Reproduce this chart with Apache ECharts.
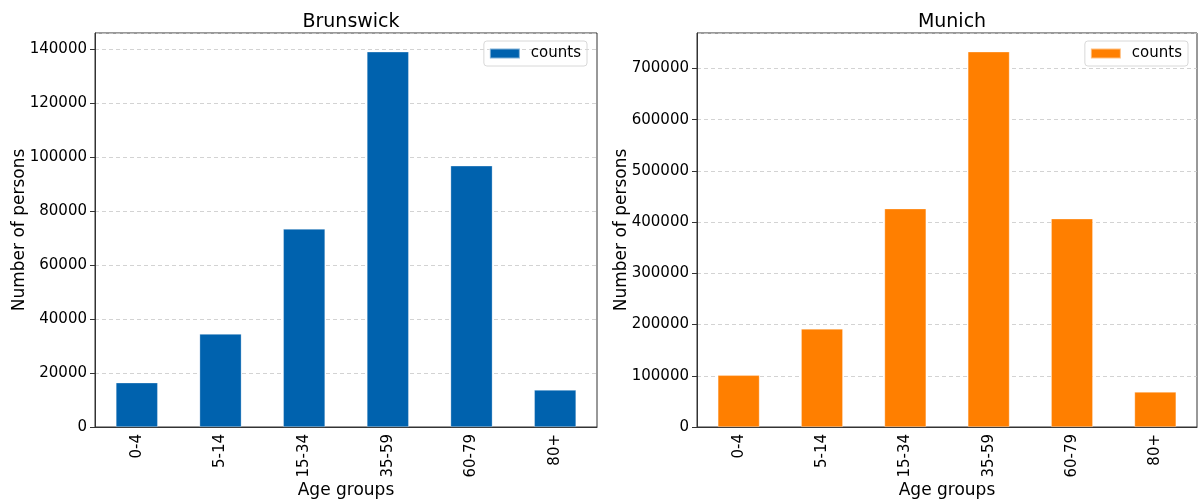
<!DOCTYPE html>
<html>
<head>
<meta charset="utf-8">
<script src="https://cdn.jsdelivr.net/npm/echarts@6/dist/echarts.min.js"></script>
<style>
  body { margin: 0; background: #fff; }
  .wrap { display: flex; width: 1200px; height: 501px; }
  .chart { width: 600px; height: 501px; }
</style>
</head>
<body>
<div class="wrap">
  <div id="brunswick" class="chart"></div>
  <div id="munich" class="chart"></div>
</div>
<script>
const ageGroups = ['0-4', '5-14', '15-34', '35-59', '60-79', '80+'];
const brunswickCounts = [16400, 34400, 73300, 138900, 96700, 13700];
const munichCounts = [101000, 191600, 426300, 732700, 406700, 68400];

const FONT = 'DejaVu Sans';

function makeOption(title, data, color, step, gridLeft, gridWidth, legendRight) {
  const top = Math.max(...data) * 1.05;
  return {
    animation: false,
    textStyle: {fontFamily: FONT},
    title: {
      text: title,
      left: gridLeft + gridWidth / 2,
      top: 8,
      textAlign: 'center',
      textStyle: {fontFamily: FONT, fontSize: 19, fontWeight: 'normal', color: '#000'}
    },
    legend: {
      data: ['counts'],
      icon: 'rect',
      right: legendRight,
      top: 41,
      itemWidth: 30,
      itemHeight: 10,
      padding: [5, 6, 5, 5],
      borderColor: '#d8d8d8',
      borderWidth: 1,
      borderRadius: 3,
      textStyle: {fontFamily: FONT, fontSize: 15, color: '#000', padding: [0, 0, 0, 6]}
    },
    grid: {
      left: gridLeft,
      width: gridWidth,
      top: 33,
      bottom: 74,
      outerBoundsMode: 'none',
      show: true,
      borderColor: '#333',
      borderWidth: 1
    },
    xAxis: {
      type: 'category',
      data: ageGroups,
      name: 'Age groups',
      nameLocation: 'middle',
      nameGap: 55,
      nameMoveOverlap: false,
      nameTextStyle: {fontFamily: FONT, fontSize: 17, color: '#000'},
      axisLine: {lineStyle: {color: '#333'}},
      axisTick: {alignWithLabel: true, length: 5, lineStyle: {color: '#333'}},
      axisLabel: {rotate: 90, fontSize: 15, color: '#000', margin: 7, fontFamily: FONT}
    },
    yAxis: {
      type: 'value',
      min: 0,
      max: top,
      interval: step,
      name: 'Number of persons',
      nameLocation: 'middle',
      nameGap: 67,
      nameMoveOverlap: false,
      nameTextStyle: {fontFamily: FONT, fontSize: 17, color: '#000'},
      axisLine: {show: true, lineStyle: {color: '#333'}},
      axisTick: {show: true, length: 5, lineStyle: {color: '#333'}},
      axisLabel: {
        fontSize: 15, color: '#000', margin: 8, fontFamily: FONT, showMaxLabel: false,
        formatter: v => String(v)
      },
      splitLine: {show: true, lineStyle: {color: '#c8c8c8', type: [4, 3], width: 0.8}}
    },
    series: [
      {
        name: 'counts',
        type: 'bar',
        barWidth: '50%',
        data: data,
        itemStyle: {color: color, borderColor: 'rgba(255,255,255,0.5)', borderWidth: 0.6}
      }
    ]
  };
}

const chartB = echarts.init(document.getElementById('brunswick'));
chartB.setOption(makeOption('Brunswick', brunswickCounts, '#0062ae', 20000, 95, 502, 13));

const chartM = echarts.init(document.getElementById('munich'));
chartM.setOption(makeOption('Munich', munichCounts, '#ff7f00', 100000, 97, 500, 12));
</script>
</body>
</html>
